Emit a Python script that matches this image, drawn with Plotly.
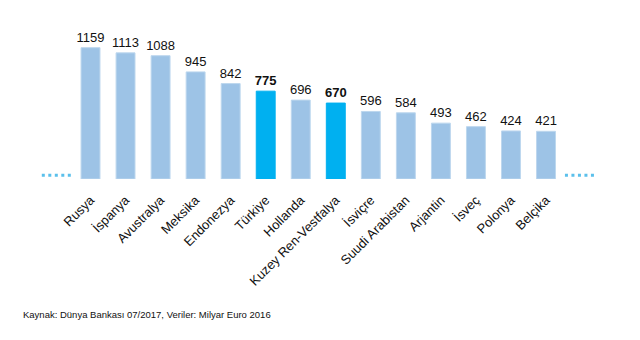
import plotly.graph_objects as go

categories = ["Rusya", "İspanya", "Avustralya", "Meksika", "Endonezya", "Türkiye",
              "Hollanda", "Kuzey Ren-Vestfalya", "İsviçre", "Suudi Arabistan",
              "Arjantin", "İsveç", "Polonya", "Belçika"]
values = [1159, 1113, 1088, 945, 842, 775, 696, 670, 596, 584, 493, 462, 424, 421]
highlight = ["Türkiye", "Kuzey Ren-Vestfalya"]

LIGHT = "#9DC3E6"
LIGHT_EDGE = "#BDD7EE"
HI = "#00B0F0"
DOT = "#5BC0EB"

xs = list(range(len(categories)))
colors = [HI if c in highlight else LIGHT for c in categories]
edges = [HI if c in highlight else LIGHT_EDGE for c in categories]
texts = [f"<b>{v}</b>" if c in highlight else str(v) for c, v in zip(categories, values)]

fig = go.Figure()
fig.add_trace(go.Bar(
    x=xs, y=values, width=0.54,
    marker=dict(color=colors, line=dict(color=edges, width=1)),
    text=texts, textposition="outside", cliponaxis=False, constraintext="none",
    textfont=dict(family="Liberation Sans, Arial", size=13, color="#111111"),
    hoverinfo="skip",
))

# dotted continuation lines on both sides
for x0, x1 in [(-1.39, -0.51), (13.54, 14.43)]:
    fig.add_shape(type="line", xref="x", yref="y", x0=x0, x1=x1, y0=32, y1=32,
                  line=dict(color=DOT, width=3, dash="3px,3.5px"))

fig.add_annotation(
    text="Kaynak: Dünya Bankası 07/2017, Veriler: Milyar Euro 2016",
    xref="paper", yref="paper", x=21/640, y=-(314 - 179) / 159,
    xanchor="left", yanchor="middle", showarrow=False,
    font=dict(family="Liberation Sans, Arial", size=9.5, color="#111111"),
)

fig.update_layout(
    width=640, height=340,
    margin=dict(l=0, r=0, t=20, b=161),
    paper_bgcolor="white", plot_bgcolor="white",
    showlegend=False,
    xaxis=dict(range=[-2.583, 15.682], tickmode="array", tickvals=xs, ticktext=categories,
               tickangle=-45, showgrid=False, zeroline=False, showline=False, ticks="",
               ticklabelstandoff=10,
               tickfont=dict(family="Liberation Sans, Arial", size=13, color="#111111")),
    yaxis=dict(range=[0, 1403], visible=False, showgrid=False, zeroline=False),
)

fig.write_html("out.html")
